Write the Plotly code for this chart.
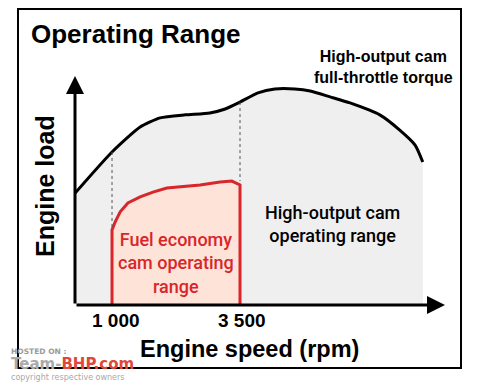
import plotly.graph_objects as go

# ---- data ----
full_rpm = [280, 1000, 1550, 1940, 2430, 2910, 3210, 3500, 3850, 4180, 4570, 4870, 5260, 5650, 6230, 6620, 6920, 7070]
full_load = [51.6, 70.5, 82.0, 86.2, 87.6, 88.5, 90.3, 93.5, 97.7, 99.5, 99.5, 98.6, 95.9, 93.1, 87.6, 80.6, 73.7, 65.9]
eco_rpm = [1000, 1000, 1060, 1160, 1310, 1550, 1800, 2070, 2720, 3110, 3340, 3500, 3500]
eco_load = [0, 34.6, 38.2, 42.9, 47.0, 49.8, 52.0, 53.9, 55.3, 56.7, 57.1, 55.3, 0]
tick_vals = [1000, 3500]
tick_text = ["1 000", "3 500"]

X0, X1 = 277, 7504
Y0, Y1 = 0, 105.5

# plot domain in reference pixels; page body has an 8px margin
OFF = 8
L, R, T, B = 75, 445, 76, 305
W, H = 481, 385

def px(x):
    return (x - L) / (R - L)

def py(y):
    return (B - y) / (B - T)

FONT = "Liberation Sans, Arial, sans-serif"

fig = go.Figure()
fig.add_trace(go.Scatter(x=full_rpm, y=full_load, mode="lines", fill="tozeroy",
                         fillcolor="#efefef", line=dict(color="black", width=3, shape="spline", smoothing=0.6),
                         hoverinfo="skip", showlegend=False))
fig.add_trace(go.Scatter(x=eco_rpm, y=eco_load, mode="lines", fill="toself",
                         fillcolor="#fde3d8", line=dict(color="#d8262a", width=3),
                         hoverinfo="skip", showlegend=False))

# dotted guide lines
fig.add_shape(type="line", x0=tick_vals[0], x1=tick_vals[0], y0=full_load[1], y1=eco_load[1],
              line=dict(color="#555", width=1, dash="dot"))
fig.add_shape(type="line", x0=tick_vals[1], x1=tick_vals[1], y0=full_load[7], y1=57.1,
              line=dict(color="#555", width=1, dash="dot"))

# axes with arrows
fig.add_annotation(x=X1, y=0, ax=X0, ay=0, axref="x", ayref="y", xref="x", yref="y",
                   showarrow=True, arrowhead=2, arrowsize=1.2, arrowwidth=3, arrowcolor="black", text="")
fig.add_annotation(x=X0, y=Y1, ax=X0, ay=0, axref="x", ayref="y", xref="x", yref="y",
                   showarrow=True, arrowhead=2, arrowsize=1.2, arrowwidth=3, arrowcolor="black", text="")

# outer frame
fig.add_shape(type="rect", xref="paper", yref="paper",
              x0=px(18), x1=px(461), y0=py(368), y1=py(9),
              line=dict(color="black", width=2))

def txt(x, y, s, size, color="black", bold=True, xanchor="center", angle=0, family=FONT, weight=None):
    if bold:
        s = "<b>" + s.replace("<br>", "</b><br><b>") + "</b>"
    f = dict(family=family, size=size, color=color)
    if weight:
        f["weight"] = weight
    fig.add_annotation(x=px(x), y=py(y), xref="paper", yref="paper", text=s, showarrow=False,
                       xanchor=xanchor, yanchor="middle", textangle=angle, font=f)

txt(29, 34, "Operating Range", 26, xanchor="left")
txt(383, 67, "High-output cam<br>full-throttle torque", 16)
txt(332, 224, "High-output cam<br>operating range", 18, bold=False, family="Roboto, Liberation Sans", weight=500)
txt(176, 263, "Fuel economy<br>cam operating<br>range", 18, color="#d8262a", bold=False,
    family="Roboto, Liberation Sans", weight=500)
txt(45, 186, "Engine load", 25, angle=-90)
txt(249, 349, "Engine speed (rpm)", 23.5)

for xc, t in zip([116, 242], tick_text):
    txt(xc, 320, t, 19)

# watermark
txt(9, 351, "HOSTED ON :", 7.5, color="#9a9a9a", xanchor="left", family="DejaVu Sans, sans-serif")
txt(9, 364, "<span style='color:#aaaaaa'>Team-</span><span style='color:#e0473a'>BHP.com</span>", 15,
    xanchor="left", family="DejaVu Sans, sans-serif")
txt(9, 377, "copyright respective owners", 8, color="#a8a8a8", bold=False, xanchor="left",
    family="DejaVu Sans, sans-serif")

fig.update_xaxes(range=[X0, X1], visible=False, fixedrange=True)
fig.update_yaxes(range=[Y0, Y1], visible=False, fixedrange=True)
fig.update_layout(width=W - OFF, height=H - OFF,
                  margin=dict(l=L - OFF, r=W - R, t=T - OFF, b=H - B),
                  paper_bgcolor="white", plot_bgcolor="white", showlegend=False)
fig.write_html("out.html")
